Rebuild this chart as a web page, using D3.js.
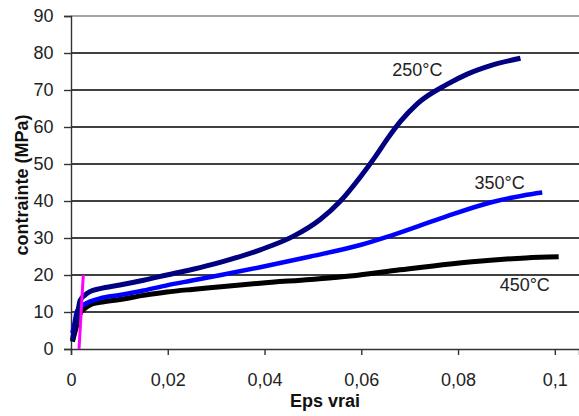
<!DOCTYPE html>
<html>
<head>
<meta charset="utf-8">
<script src="https://cdn.jsdelivr.net/npm/d3@7"></script>
<style>
  html, body { margin: 0; padding: 0; background: #fff; }
  svg { display: block; }
  text { font-family: "Liberation Sans", Arial, sans-serif; }
</style>
</head>
<body>
<svg id="chart" width="579" height="416"></svg>
<script>
// ---- data ----
const xTicks = [0, 0.02, 0.04, 0.06, 0.08, 0.1];
const yTicks = [0, 10, 20, 30, 40, 50, 60, 70, 80, 90];

const eps250 = [0.0003, 0.0008, 0.0014, 0.0019, 0.0028, 0.0039, 0.006, 0.0101, 0.015, 0.0198, 0.025, 0.031, 0.0391, 0.046, 0.0515, 0.0557, 0.0598, 0.0629, 0.0655, 0.0681, 0.0715, 0.0777, 0.0819, 0.0867, 0.0929];
const val250 = [2.5, 6, 10, 13.2, 14.5, 15.5, 16.3, 17.3, 18.6, 20, 21.5, 23.5, 26.8, 30.5, 35.0, 40.0, 46.5, 52.0, 57.0, 61.5, 66.2, 71.5, 74.3, 76.6, 78.6];

const eps350 = [0.0003, 0.0008, 0.0012, 0.0019, 0.0028, 0.0039, 0.006, 0.0101, 0.015, 0.0198, 0.025, 0.031, 0.0391, 0.0495, 0.0598, 0.066, 0.0764, 0.0867, 0.0935, 0.0974];
const val350 = [4.3, 7.5, 10.1, 11.3, 12.1, 12.8, 13.7, 14.6, 15.8, 17.2, 18.5, 20, 22.1, 25, 28.1, 30.6, 35.3, 39.6, 41.5, 42.3];

const eps450 = [0.0003, 0.0008, 0.0014, 0.0019, 0.0028, 0.0039, 0.006, 0.0101, 0.015, 0.0198, 0.025, 0.031, 0.0391, 0.0495, 0.0577, 0.068, 0.0784, 0.0867, 0.094, 0.1008];
const val450 = [2, 4.5, 7.5, 9.6, 10.9, 11.9, 12.6, 13.4, 14.5, 15.4, 16.1, 16.8, 17.8, 18.8, 19.7, 21.4, 23.0, 24.0, 24.6, 24.9];

const epsMag = [0.00166, 0.00254];
const valMag = [0, 20];

const seriesNames = ["250°C", "350°C", "450°C"];

// ---- layout ----
const svg = d3.select("#chart");
const mLeft = 71, mRight = 579, mTop = 16, mBottom = 349;
const x = d3.scaleLinear().domain([0, 0.105]).range([mLeft, mRight]);
const y = d3.scaleLinear().domain([0, 90]).range([mBottom, mTop]);

// gridlines
svg.append("g").selectAll("line").data(yTicks.filter(d => d > 0)).join("line")
  .attr("x1", mLeft).attr("x2", mRight)
  .attr("y1", d => y(d)).attr("y2", d => y(d))
  .attr("stroke", d => d === 90 ? "#888" : "#000")
  .attr("stroke-width", 1.4);

const fmtX = d => d === 0 ? "0" : String(+d.toFixed(2)).replace(".", ",");

// x axis
const gx = svg.append("g").attr("transform", `translate(0,${mBottom})`)
  .call(d3.axisBottom(x).tickValues(xTicks).tickFormat(fmtX).tickSize(6).tickPadding(18));
gx.select(".domain").attr("stroke", "#333").attr("stroke-width", 1.4);
gx.selectAll(".tick line").attr("stroke", "#333").attr("stroke-width", 1.4);
gx.selectAll(".tick text").attr("font-size", 18).attr("fill", "#222")
  .attr("font-family", "Liberation Sans, Arial, sans-serif");

// y axis
const gy = svg.append("g").attr("transform", `translate(${mLeft},0)`)
  .call(d3.axisLeft(y).tickValues(yTicks).tickSize(7).tickPadding(10.5));
gy.select(".domain").attr("stroke", "#333").attr("stroke-width", 1.4);
gy.selectAll(".tick line").attr("stroke", "#333").attr("stroke-width", 1.4);
gy.selectAll(".tick text").attr("font-size", 18).attr("fill", "#222")
  .attr("font-family", "Liberation Sans, Arial, sans-serif");

// curves
const line = d3.line().x(d => x(d[0])).y(d => y(d[1])).curve(d3.curveMonotoneX);
const series = [
  { name: seriesNames[2], eps: eps450, val: val450, color: "#000000", w: 5 },
  { name: seriesNames[1], eps: eps350, val: val350, color: "#0000ff", w: 4.5 },
  { name: seriesNames[0], eps: eps250, val: val250, color: "#000080", w: 5 }
];
series.forEach(s => {
  svg.append("path")
    .attr("d", line(d3.zip(s.eps, s.val)))
    .attr("fill", "none")
    .attr("stroke", s.color)
    .attr("stroke-width", s.w)
    .attr("stroke-linejoin", "round");
});

// magenta line
svg.append("path")
  .attr("d", d3.line().x(d => x(d[0])).y(d => y(d[1]))(d3.zip(epsMag, valMag)))
  .attr("stroke", "#ff00ff").attr("stroke-width", 3).attr("fill", "none");

// curve labels
const labelPos = [[0.0664, 73.8], [0.0834, 43.2], [0.0886, 15.6]];
seriesNames.forEach((n, i) => {
  svg.append("text")
    .attr("x", x(labelPos[i][0])).attr("y", y(labelPos[i][1]))
    .attr("font-size", 18).attr("fill", "#222")
    .text(n);
});

// axis titles
svg.append("text")
  .attr("x", 325).attr("y", 407)
  .attr("text-anchor", "middle")
  .attr("font-size", 18).attr("font-weight", "bold").attr("fill", "#111")
  .text("Eps vrai");

svg.append("text")
  .attr("transform", "translate(28,185) rotate(-90)")
  .attr("text-anchor", "middle")
  .attr("font-size", 18).attr("font-weight", "bold").attr("fill", "#111")
  .text("contrainte (MPa)");
</script>
</body>
</html>
